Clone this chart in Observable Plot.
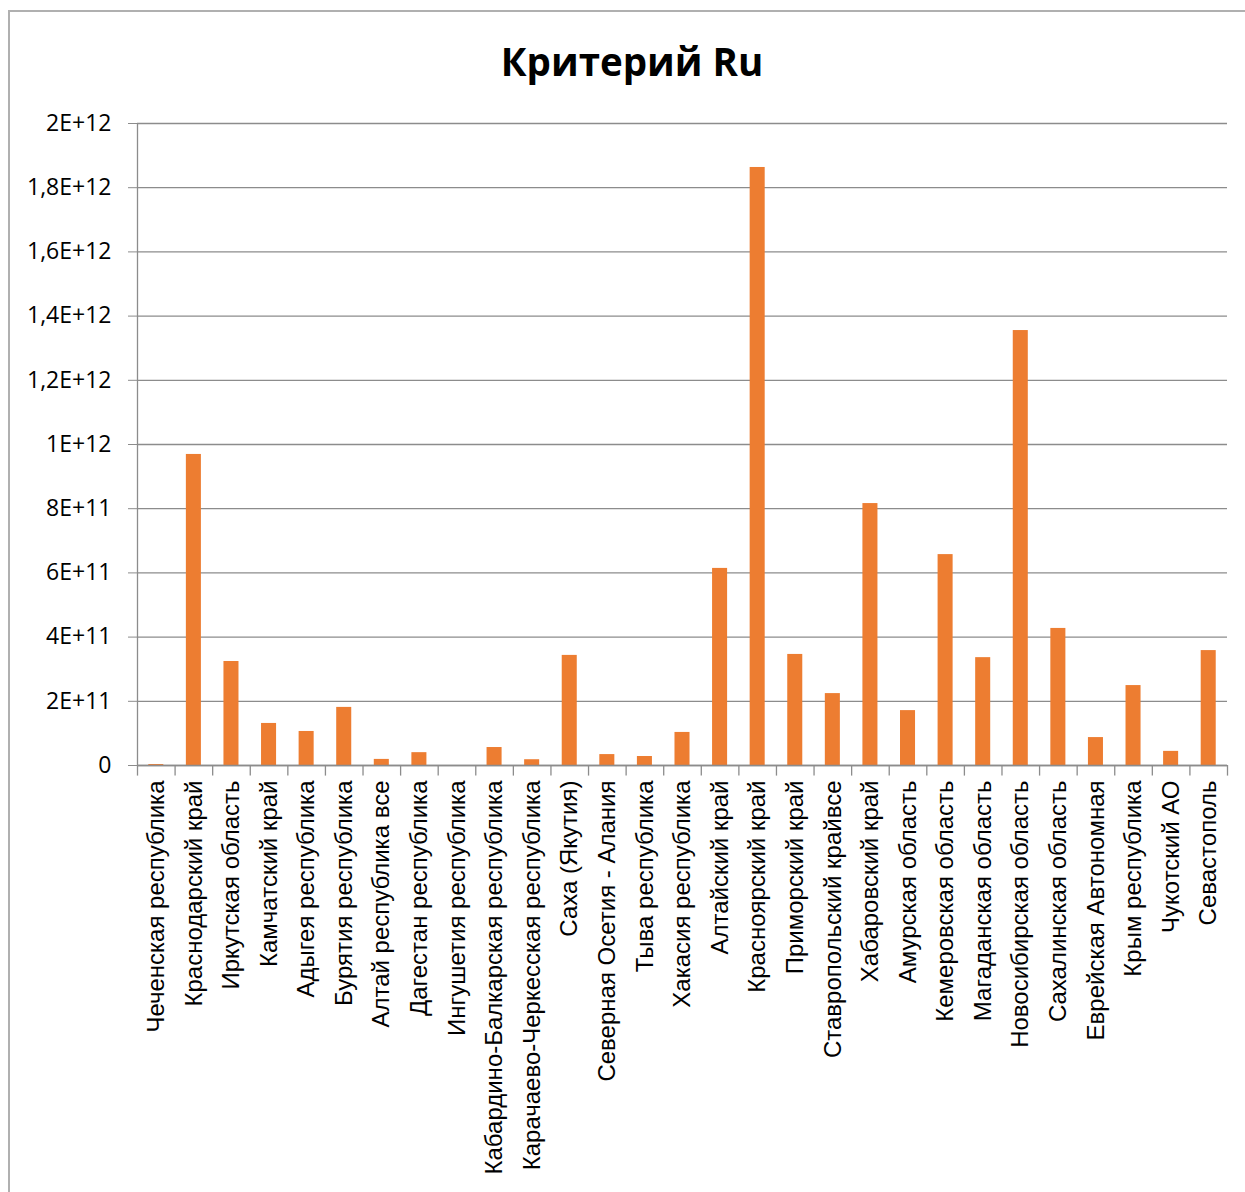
<!DOCTYPE html>
<html>
<head>
<meta charset="utf-8">
<script src="https://cdn.jsdelivr.net/npm/d3@7"></script>
<script src="https://cdn.jsdelivr.net/npm/@observablehq/plot@0.6"></script>
<style>
  html, body { margin: 0; padding: 0; background: #fff; overflow: hidden; }
  #frame { position: absolute; left: 8px; top: 10px; width: 1300px; height: 1300px; border: 2px solid #b0b0b0; box-sizing: border-box; }
  #title { position: absolute; left: 0; top: 35px; width: 1264px; text-align: center; font-family: "Open Sans", sans-serif; font-weight: bold; font-size: 38.5px; color: #000; }
  #chart { position: absolute; left: 0; top: 100px; }
</style>
</head>
<body>
<div id="frame"></div>
<div id="title">Критерий Ru</div>
<div id="chart"></div>
<script>
const categories = [
  "Чеченская республика",
  "Краснодарский край",
  "Иркутская область",
  "Камчатский край",
  "Адыгея республика",
  "Бурятия республика",
  "Алтай республика все",
  "Дагестан республика",
  "Ингушетия республика",
  "Кабардино-Балкарская республика",
  "Карачаево-Черкесская республика",
  "Саха (Якутия)",
  "Северная Осетия - Алания",
  "Тыва республика",
  "Хакасия республика",
  "Алтайский край",
  "Красноярский край",
  "Приморский край",
  "Ставропольский крайвсе",
  "Хабаровский край",
  "Амурская область",
  "Кемеровская область",
  "Магаданская область",
  "Новосибирская область",
  "Сахалинская область",
  "Еврейская Автономная",
  "Крым республика",
  "Чукотский АО",
  "Севастополь"
];
const values = [
  3e9, 969e9, 324e9, 131e9, 106e9, 181e9, 19e9, 40e9, 0, 56e9,
  18e9, 343e9, 34e9, 28e9, 103e9, 614e9, 1863e9, 346e9, 224e9, 816e9,
  171e9, 657e9, 336e9, 1355e9, 427e9, 87e9, 249e9, 44e9, 358e9
];
const yTicks = [0, 2e11, 4e11, 6e11, 8e11, 1e12, 1.2e12, 1.4e12, 1.6e12, 1.8e12, 2e12];

const data = categories.map((c, i) => ({category: c, value: values[i]}));

function fmt(v) {
  if (v === 0) return "0";
  const e = Math.floor(Math.log10(v) + 1e-9);
  const m = +(v / Math.pow(10, e)).toFixed(1);
  return String(m).replace(".", ",") + "E+" + e;
}

const W = 1245, H = 1092, ML = 137, MR = 18, MT = 23, MB = 427;
const step = (W - ML - MR) / categories.length;
const gray = "#8c8c8c";

const chart = Plot.plot({
  width: W,
  height: H,
  marginLeft: ML,
  marginRight: MR,
  marginTop: MT,
  marginBottom: MB,
  style: {fontFamily: "'Open Sans', sans-serif", background: "transparent", overflow: "visible"},
  x: {domain: categories, paddingInner: 0.6, paddingOuter: 0.3, round: false},
  y: {domain: [0, 2e12]},
  marks: [
    Plot.gridY(yTicks, {stroke: gray, strokeOpacity: 1, strokeWidth: 1.3}),
    Plot.axisY(yTicks, {tickFormat: fmt, tickSize: 9, tickPadding: 17, stroke: gray, strokeOpacity: 1, fontSize: 23, fill: "#000", label: null}),
    Plot.barY(data, {x: "category", y: "value", fill: "#ED7D31"}),
    Plot.ruleY([0], {stroke: gray, strokeWidth: 1.3}),
    Plot.ruleX(categories.slice(0, 1), {x: d => d, dx: -step / 2, y1: 0, y2: 2e12, stroke: gray, strokeWidth: 1.3}),
    Plot.axisX({tickSize: 0, tickPadding: 15, tickRotate: -90, fontSize: 24, fill: "#000", label: null, fontFamily: "'Liberation Sans', Arial, sans-serif"}),
    Plot.ruleX(categories, {x: d => d, dx: -step / 2, y1: 0, y2: -3.3e10, stroke: gray, strokeWidth: 1.3}),
    Plot.ruleX(categories.slice(-1), {x: d => d, dx: step / 2, y1: 0, y2: -3.3e10, stroke: gray, strokeWidth: 1.3})
  ]
});
document.getElementById("chart").appendChild(chart);
</script>
</body>
</html>
